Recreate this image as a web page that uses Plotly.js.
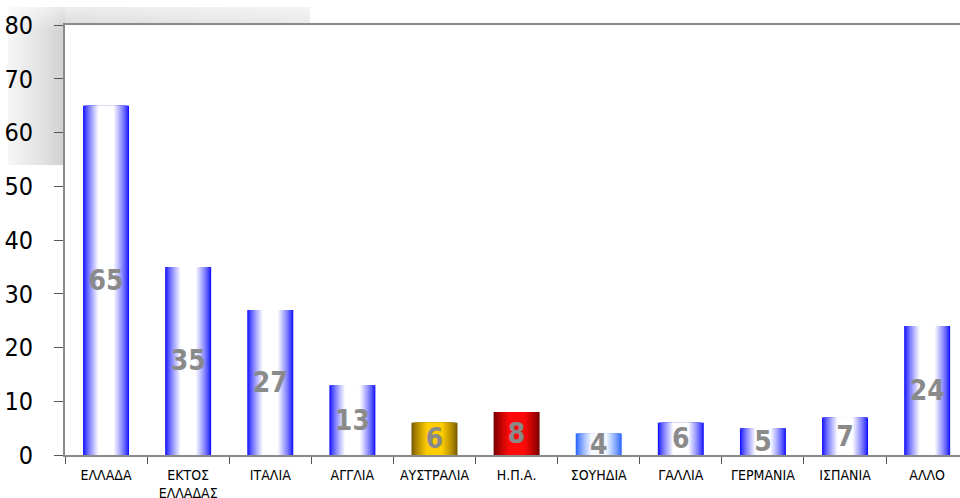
<!DOCTYPE html>
<html>
<head>
<meta charset="utf-8">
<script src="https://cdn.plot.ly/plotly-3.0.1.min.js"></script>
<style>
  html, body { margin: 0; padding: 0; background: #ffffff; overflow: hidden; }
  #chart { width: 960px; height: 498px; }
</style>
</head>
<body>
<div id="chart"></div>
<script>
// ---- data ----
const categories = ['ΕΛΛΑΔΑ', 'ΕΚΤΟΣ<br>ΕΛΛΑΔΑΣ', 'ΙΤΑΛΙΑ', 'ΑΓΓΛΙΑ', 'ΑΥΣΤΡΑΛΙΑ', 'Η.Π.Α.', 'ΣΟΥΗΔΙΑ', 'ΓΑΛΛΙΑ', 'ΓΕΡΜΑΝΙΑ', 'ΙΣΠΑΝΙΑ', 'ΑΛΛΟ'];
const values = [65, 35, 27, 13, 6, 8, 4, 6, 5, 7, 24];
const yTicks = [0, 10, 20, 30, 40, 50, 60, 70, 80];

// per-bar gradient: colour at the bar edges and colour in the middle
const edgeColors = [
  [20, 20, 255], [20, 20, 255], [20, 20, 255], [20, 20, 255],
  [120, 90, 0], [120, 0, 0], [40, 100, 255],
  [20, 20, 255], [20, 20, 255], [20, 20, 255], [20, 20, 255]
];
const centerColors = [
  [255, 255, 255], [255, 255, 255], [255, 255, 255], [255, 255, 255],
  [255, 204, 0], [255, 10, 10], [245, 248, 255],
  [255, 255, 255], [255, 255, 255], [255, 255, 255], [255, 255, 255]
];

// ---- styling ----
const BAR_W = 0.56;
const LAYERS = 16;
const traces = [];
function mix(a, b, t) {
  return 'rgb(' + a.map((v, i) => Math.round(v + (b[i] - v) * t)).join(',') + ')';
}
for (let k = 0; k < LAYERS; k++) {
  const f = k / (LAYERS - 1);
  const w = BAR_W * (1 - 0.66 * f);
  const t = Math.pow(f, 0.8);
  traces.push({
    type: 'bar',
    x: categories,
    y: values,
    width: categories.map(() => w),
    marker: { color: categories.map((c, i) => mix(edgeColors[i], centerColors[i], t)), line: { width: 0 } },
    hoverinfo: 'skip',
    showlegend: false
  });
}
// label layer
const labelFont = { family: 'DejaVu Sans Condensed, DejaVu Sans, sans-serif', size: 28, color: '#8a8a8a', weight: 'bold' };
traces.push({
  type: 'bar',
  x: categories,
  y: values,
  width: categories.map(() => BAR_W),
  marker: { color: 'rgba(0,0,0,0)', line: { width: 0 } },
  text: values.map(String),
  textposition: 'inside',
  insidetextanchor: 'middle',
  textangle: 0,
  constraintext: 'none',
  textfont: labelFont,
  insidetextfont: labelFont,
  hoverinfo: 'skip',
  showlegend: false
});

// decorative grey shadow behind top-left corner
const shadowSvg =
  '<svg xmlns="http://www.w3.org/2000/svg" width="302" height="158" viewBox="0 0 302 158" preserveAspectRatio="none">' +
  '<defs>' +
  '<linearGradient id="l" x1="0" y1="0" x2="1" y2="0">' +
  '<stop offset="0" stop-color="#f6f6f6"/><stop offset="0.6" stop-color="#e2e2e2"/><stop offset="1" stop-color="#cfcfcf"/></linearGradient>' +
  '<linearGradient id="t" x1="0" y1="0" x2="1" y2="0">' +
  '<stop offset="0" stop-color="#d8d8d8"/><stop offset="1" stop-color="#e6e6e6"/></linearGradient>' +
  '<linearGradient id="v" x1="0" y1="0" x2="0" y2="1">' +
  '<stop offset="0" stop-color="#ffffff" stop-opacity="0.55"/><stop offset="0.15" stop-color="#ffffff" stop-opacity="0"/></linearGradient>' +
  '</defs>' +
  '<rect x="0" y="0" width="57" height="158" fill="url(#l)"/>' +
  '<rect x="57" y="0" width="245" height="18" fill="url(#t)"/>' +
  '<rect x="0" y="0" width="302" height="158" fill="url(#v)"/>' +
  '</svg>';

const plotL = 65, plotR = 960, plotT = 25, plotB = 455;
const pw = plotR - plotL, ph = plotB - plotT;

const layout = {
  width: 960,
  height: 498,
  margin: { l: plotL, r: 960 - plotR, t: plotT, b: 498 - plotB, pad: 0 },
  paper_bgcolor: '#ffffff',
  plot_bgcolor: '#ffffff',
  barmode: 'overlay',
  showlegend: false,
  font: { family: 'DejaVu Sans Condensed, DejaVu Sans, sans-serif', color: '#000000' },
  xaxis: {
    type: 'category',
    range: [-0.5, 10.4],
    showgrid: false,
    zeroline: false,
    showline: true,
    linecolor: '#8a8a8a',
    linewidth: 2,
    mirror: true,
    ticks: 'outside',
    tickson: 'boundaries',
    ticklen: 7,
    tickwidth: 1,
    tickcolor: '#555555',
    tickangle: 0,
    ticklabelstandoff: 6,
    tickfont: { size: 14, color: '#000000' },
    fixedrange: true
  },
  yaxis: {
    range: [0, 80],
    tickvals: yTicks,
    ticktext: yTicks.map(String),
    showgrid: false,
    zeroline: false,
    showline: true,
    linecolor: '#8a8a8a',
    linewidth: 2,
    ticks: 'outside',
    ticklen: 9,
    tickwidth: 1,
    tickcolor: '#555555',
    ticklabelstandoff: 16,
    tickfont: { size: 25, color: '#000000' },
    fixedrange: true
  },
  images: [{
    source: 'data:image/svg+xml;charset=utf-8,' + encodeURIComponent(shadowSvg),
    xref: 'paper', yref: 'paper',
    x: (8 - plotL) / pw,
    y: (plotB - 7) / ph,
    sizex: (310 - 8) / pw,
    sizey: (165 - 7) / ph,
    sizing: 'stretch',
    xanchor: 'left', yanchor: 'top',
    layer: 'below'
  }]
};

Plotly.newPlot('chart', traces, layout, { displayModeBar: false, staticPlot: true });
</script>
</body>
</html>
